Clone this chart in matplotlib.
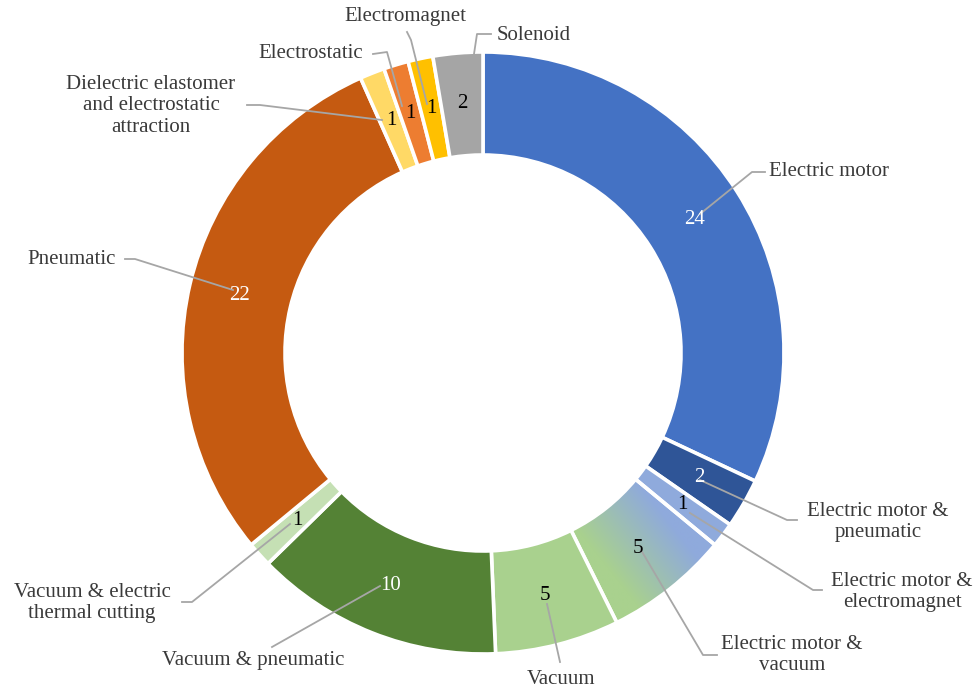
import numpy as np
import matplotlib.pyplot as plt
from matplotlib.colors import LinearSegmentedColormap

# Actuation types, clockwise from 12 o'clock
categories = [
    "Electric motor",
    "Electric motor &\npneumatic",
    "Electric motor &\nelectromagnet",
    "Electric motor &\nvacuum",
    "Vacuum",
    "Vacuum & pneumatic",
    "Vacuum & electric\nthermal cutting",
    "Pneumatic",
    "Dielectric elastomer\nand electrostatic\nattraction",
    "Electrostatic",
    "Electromagnet",
    "Solenoid",
]
counts = [24, 2, 1, 5, 5, 10, 1, 22, 1, 1, 1, 2]

colors = ["#4472C4", "#2F5597", "#8FAADC", "#A9D18E", "#A9D18E", "#548235",
          "#C5E0B4", "#C55A11", "#FFD966", "#ED7D31", "#FFC000", "#A5A5A5"]
num_colors = ["white", "white", "black", "black", "black", "white",
              "black", "white", "black", "black", "black", "black"]

# outside label anchor (pixel coords, y down) and alignment
label_xy = [(769, 172, "left"), (878, 522, "center"), (902, 592, "center"),
            (792, 655, "center"), (561, 679, "center"), (253, 660, "center"),
            (92, 603, "center"), (72, 260, "center"), (151, 106, "center"),
            (311, 54, "center"), (405, 17, "center"), (497, 35, "left")]
# leader lines, from label to value
leaders = [
    [(765, 172), (752, 172), (700, 214)],
    [(797, 520), (787, 520), (700, 480)],
    [(822, 590), (813, 590), (690, 513)],
    [(717, 655), (703, 655), (641, 550)],
    [(560, 662), (547, 604)],
    [(272, 647), (380, 586)],
    [(182, 602), (192, 602), (290, 524)],
    [(125, 259), (135, 259), (233, 290)],
    [(247, 105), (260, 105), (382, 120)],
    [(373, 54), (387, 52), (402, 106)],
    [(407, 32), (411, 40), (427, 104)],
    [(491, 34), (477, 34), (474, 54)],
]

W, H = 978, 690
cx, cy, R = 483, 337, 301

fig = plt.figure(figsize=(W / 100, H / 100), dpi=100)
ax = fig.add_axes([0, 0, 1, 1])

wedges, _ = ax.pie(counts, colors=colors, startangle=90, counterclock=False,
                   radius=R, center=(cx, cy),
                   wedgeprops=dict(width=103, edgecolor="white", linewidth=2.6))

# blue-to-green gradient fill on the "Electric motor & vacuum" slice
gw = wedges[3]
t1, t2 = np.radians(gw.theta1), np.radians(gw.theta2)
rm = R - 52
g0 = np.array([cx + rm * np.cos(t1), cy + rm * np.sin(t1)])
g1 = np.array([cx + rm * np.cos(t2), cy + rm * np.sin(t2)])
xs = np.linspace(cx, cx + R, 300)
ys = np.linspace(cy - R, cy, 300)
gx, gy = np.meshgrid(xs, ys)
d = g1 - g0
tt = ((gx - g0[0]) * d[0] + (gy - g0[1]) * d[1]) / (d @ d)
tt = np.clip((tt - 0.15) / 0.75, 0, 1)
cmap = LinearSegmentedColormap.from_list("gb", ["#A9D18E", "#8FAADC"])
im = ax.imshow(tt, cmap=cmap, extent=(cx, cx + R, cy - R, cy), origin="lower",
               zorder=0.5, interpolation="bilinear")
im.set_clip_path(gw)
gw.set_facecolor("none")

font = dict(family="Liberation Serif", fontsize=15)

for w, n, c in zip(wedges, counts, num_colors):
    th = np.radians((w.theta1 + w.theta2) / 2)
    ax.text(cx + 250 * np.cos(th), cy + 250 * np.sin(th), str(n),
            ha="center", va="center", color=c, zorder=4, **font)

for name, (x, y, ha), pts in zip(categories, label_xy, leaders):
    ax.text(x, H - y, name, ha=ha, va="center", color="#3A3A3A",
            linespacing=1.15, **font)
    px = [p[0] for p in pts]
    py = [H - p[1] for p in pts]
    ax.plot(px, py, color="#A6A6A6", lw=1.3, zorder=3)

ax.set_xlim(0, W)
ax.set_ylim(0, H)
ax.set_aspect("equal")
ax.axis("off")

fig.savefig("out.png", dpi=100, facecolor="white")
